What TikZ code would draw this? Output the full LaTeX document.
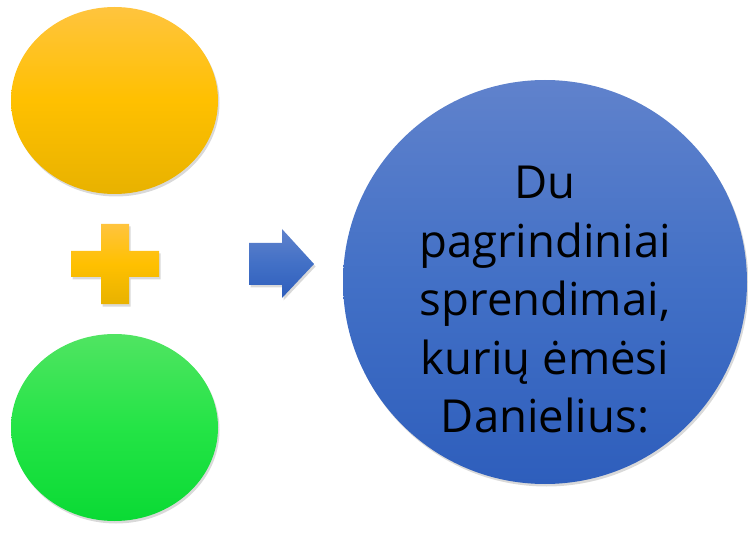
\documentclass[tikz,border=0pt]{standalone}
\usepackage{fontspec}
\setmainfont{Open Sans}
\usepackage{tikz}
\usetikzlibrary{shapes.geometric, shadows}

\definecolor{orangetop}{RGB}{255,196,62}
\definecolor{orangemid}{RGB}{255,192,0}
\definecolor{orangebot}{RGB}{232,178,0}
\definecolor{greentop}{RGB}{80,228,98}
\definecolor{greenmid}{RGB}{36,228,70}
\definecolor{greenbot}{RGB}{10,218,52}
\definecolor{bluetop}{RGB}{96,130,204}
\definecolor{bluemid}{RGB}{66,112,198}
\definecolor{bluebot}{RGB}{46,94,188}

\begin{document}
\begin{tikzpicture}[x=1pt, y=-1pt,
    softshadow/.style={drop shadow={opacity=0.3, shadow xshift=1.5pt, shadow yshift=-2.5pt}},
    ball/.style={ellipse, draw=none, minimum width=207pt, minimum height=187pt, inner sep=0pt, softshadow},
    orangefill/.style={top color=orangetop, bottom color=orangebot, middle color=orangemid},
    greenfill/.style={top color=greentop, bottom color=greenbot, middle color=greenmid},
    bluefill/.style={top color=bluetop, bottom color=bluebot, middle color=bluemid}]
    \useasboundingbox (0,0) rectangle (748,559);

    \node[ball, orangefill] (orange) at (114.5,100.5) {};
    \node[ball, greenfill] (green) at (114.5,427.5) {};

    \path[orangefill, softshadow] (101,224) -- (129,224) -- (129,251) -- (159,251) -- (159,277) -- (129,277)
        -- (129,304) -- (101,304) -- (101,277) -- (71,277) -- (71,251) -- (101,251) -- cycle;

    \path[bluefill, softshadow] (249,243) -- (282,243) -- (282,229) -- (314,264) -- (282,298)
        -- (282,285) -- (249,285) -- cycle;

    \node[circle, draw=none, minimum size=404pt, inner sep=0pt, bluefill, softshadow] (decision) at (545,282) {};
    \node[align=center, font=\fontsize{45.5}{58.5}\selectfont, inner sep=0pt] (caption) at ([yshift=-18pt]decision.center)
        {Du\\pagrindiniai\\sprendimai,\\kurių ėmėsi\\Danielius:};

\end{tikzpicture}
\end{document}
